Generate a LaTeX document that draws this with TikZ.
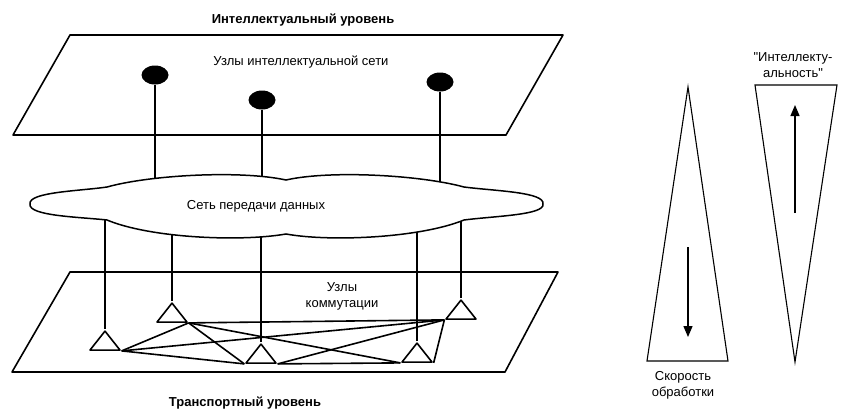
\documentclass[tikz,border=0pt]{standalone}
\usepackage{fontspec}
\setmainfont{Liberation Sans}
\usetikzlibrary{arrows.meta,shapes.geometric,calc}
\tikzset{plane/.style={draw,line width=1.6pt,line join=round},lbl/.style={font=\fontsize{13}{16}\selectfont,align=center,inner sep=1pt},head/.style={lbl,font=\fontsize{13}{16}\selectfont\bfseries},dot/.style={ellipse,fill=black,minimum width=27pt,minimum height=19pt,inner sep=0pt},sw/.style={isosceles triangle,isosceles triangle stretches,shape border rotate=90,draw,line width=1.6pt,line join=round,minimum width=30pt,minimum height=19pt,inner sep=0pt},link/.style={line width=1.6pt},drop/.style={line width=1.2pt},wedge/.style={draw,line width=1.1pt},arr/.style={-{Triangle[length=11pt,width=9pt]},line width=1.3pt}}
\begin{document}
\begin{tikzpicture}[x=1pt,y=-1pt]
\useasboundingbox (0,0) rectangle (855,416);
% two levels
\draw[plane] (13,135) -- (506,135) -- (563,35) -- (70,35) -- cycle;
\draw[plane] (12,372) -- (505,372) -- (558,272) -- (70,272) -- cycle;
\node[head] (top) at (303,20) {Интеллектуальный уровень};
\node[lbl] (ti) at (301,62) {Узлы интеллектуальной сети};
\node[head] (bot) at (245,403) {Транспортный уровень};
\node[lbl] (tk) at (342,296) {Узлы\\коммутации};
% nodes of the intelligent net
\node[dot] (d1) at (155,75) {};
\node[dot] (d2) at (262,100) {};
\node[dot] (d3) at (440,82) {};
% switching nodes
\node[sw,anchor=apex] (A) at (105,329) {};
\node[sw,anchor=apex] (B) at (172,301) {};
\node[sw,anchor=apex] (C) at (261,342) {};
\node[sw,anchor=apex] (D) at (417,341) {};
\node[sw,anchor=apex] (E) at (461,298) {};
\foreach \a/\b in {A.right corner/B.right corner,A.right corner/C.left corner,A.right corner/E.left corner,B.right corner/C.left corner,B.right corner/D.left corner,B.right corner/E.left corner,C.right corner/D.left corner,C.right corner/E.left corner,D.right corner/E.left corner}
  \draw[link] (\a) -- (\b);
% drops through the cloud
\coordinate (netc) at (256,206);
\foreach \n in {d1,d2,d3}
  \draw[drop] (\n) -- (\n |- netc);
\foreach \n in {A,B,C,D,E}
  \draw[drop] (\n.apex) -- (\n.apex |- netc);
\filldraw[fill=white,line width=1.5pt] (30,204) .. controls (28,192) and (80,191) .. (107,187)
  .. controls (150,175) and (240,170) .. (286,180)
  .. controls (330,170) and (420,175) .. (464,187)
  .. controls (495,191) and (545,192) .. (543,204)
  .. controls (545,215) and (495,216) .. (464,220)
  .. controls (420,238) and (330,242) .. (286,234)
  .. controls (240,242) and (150,238) .. (107,220)
  .. controls (80,217) and (28,216) .. (30,204) -- cycle;
\node[lbl] (net) at (netc) {Сеть передачи данных};
% speed vs intelligence
\draw[wedge] (647,361) -- (728,361) -- (688,87) -- cycle;
\draw[wedge] (755,85) -- (837,85) -- (795,362) -- cycle;
\coordinate (s0) at (688,247);
\coordinate (s1) at (688,337);
\coordinate (i0) at (795,213);
\coordinate (i1) at (795,105);
\draw[arr] (s0) -- (s1);
\draw[arr] (i0) -- (i1);
\node[lbl] (sp) at (683,385) {Скорость\\обработки};
\node[lbl] (in) at (793,65) {\textquotedbl Интеллекту-\\альность\textquotedbl};
\end{tikzpicture}
\end{document}
